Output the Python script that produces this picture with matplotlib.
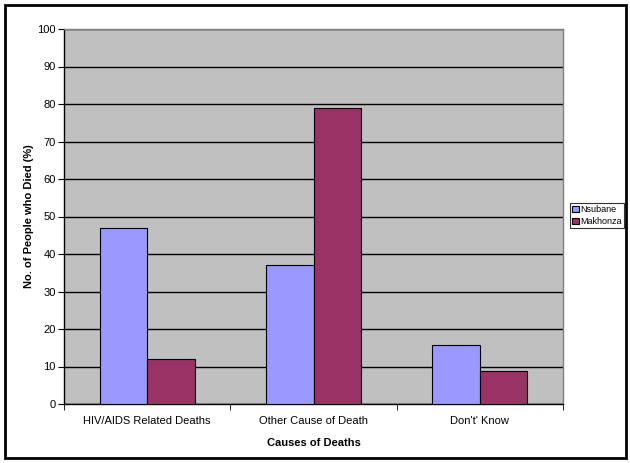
import matplotlib
matplotlib.use("Agg")
import matplotlib.pyplot as plt
import numpy as np
from matplotlib.patches import Rectangle

categories = ["HIV/AIDS Related Deaths", "Other Cause of Death", "Don't' Know"]
series_names = ["Nsubane", "Makhonza"]
nsubane = [47, 37, 15.7]
makhonza = [12, 79, 8.8]
colors = ["#9999FF", "#993366"]

plt.rcParams["font.family"] = ["Liberation Sans", "DejaVu Sans"]

W, H = 630, 463
fig = plt.figure(figsize=(W / 100, H / 100), dpi=100)
fig.patch.set_facecolor("white")

# outer chart border
fig.patches.append(Rectangle((5 / W, 5 / H), 621 / W, 453 / H, transform=fig.transFigure,
                             fill=False, edgecolor="black", linewidth=2))

left, right, top, bottom = 64, 563, 29, 404
ax = fig.add_axes([left / W, 1 - bottom / H, (right - left) / W, (bottom - top) / H])
ax.set_facecolor("#C0C0C0")

x = np.arange(len(categories))
bw = 1 / 3.5
ax.bar(x - bw / 2, nsubane, bw, color=colors[0], edgecolor="black", linewidth=0.8,
       label=series_names[0], zorder=3)
ax.bar(x + bw / 2, makhonza, bw, color=colors[1], edgecolor="black", linewidth=0.8,
       label=series_names[1], zorder=3)

ax.set_xlim(-0.5, len(categories) - 0.5)
ax.set_ylim(0, 100)
ax.set_yticks(np.arange(0, 101, 10))
ax.yaxis.grid(True, color="black", linewidth=1, zorder=1)
ax.set_axisbelow(True)

ax.set_xticks(x)
ax.set_xticklabels(categories, fontsize=8)
ax.set_xticks(np.arange(-0.5, len(categories), 1), minor=True)
ax.tick_params(axis="x", which="major", length=0, pad=9)
ax.tick_params(axis="x", which="minor", length=4, color="black")
ax.tick_params(axis="y", length=4, labelsize=8, color="black", pad=2)

for side in ["top", "right"]:
    ax.spines[side].set_color("#808080")
    ax.spines[side].set_linewidth(1)
for side in ["left", "bottom"]:
    ax.spines[side].set_color("black")
    ax.spines[side].set_linewidth(1)

ax.set_xlabel("Causes of Deaths", fontsize=8, fontweight="bold", labelpad=8)
ax.set_ylabel("No. of People who Died (%)", fontsize=8, fontweight="bold", labelpad=2)

leg = fig.legend(loc="upper left", bbox_to_anchor=(570 / W, 1 - 203 / H), fontsize=6.5,
                 frameon=True, fancybox=False, edgecolor="black", handlelength=0.7,
                 handleheight=0.7, handletextpad=0.15, borderpad=0.25, labelspacing=0.3,
                 borderaxespad=0)
leg.get_frame().set_linewidth(0.8)

fig.savefig("out.png", dpi=100)
